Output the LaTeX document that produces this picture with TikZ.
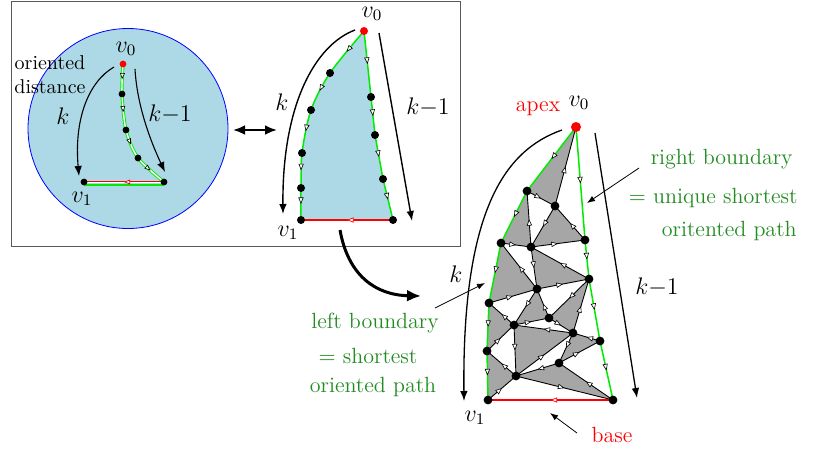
\documentclass[tikz,border=0pt]{standalone}
\usetikzlibrary{arrows.meta,decorations.markings}
\definecolor{lblue}{RGB}{173,216,230}
\definecolor{bgreen}{RGB}{0,235,0}
\definecolor{tgreen}{RGB}{34,139,34}
\definecolor{fgrey}{RGB}{166,166,166}
\definecolor{boxgrey}{RGB}{90,90,90}
\tikzset{
 dot/.style={circle, fill=black, inner sep=0pt, minimum size=4pt},
 reddot/.style={circle, fill=red, inner sep=0pt, minimum size=4pt},
 edgeln/.style={draw=black, line width=0.45pt},
 bnd/.style={draw=bgreen, line width=0.75pt},
 baseln/.style={draw=red, line width=0.75pt},
 midarr/.style={postaction={decorate, decoration={markings, mark=at position 0.5 with {\arrow{Triangle[length=3.3pt,width=2.6pt,fill=white,color=black,line width=0.3pt]}}}}},
 midarrred/.style={postaction={decorate, decoration={markings, mark=at position 0.5 with {\arrow{Triangle[length=3.3pt,width=2.6pt,fill=white,color=red,line width=0.35pt]}}}}},
 longarr/.style={-{Latex[length=5pt,width=3.8pt]}, line width=0.55pt},
 ptrarr/.style={-{Latex[length=4pt,width=3pt]}, line width=0.4pt},
 lab/.style={inner sep=0pt, font=\large},
 gtxt/.style={inner sep=0pt, text=tgreen, font=\fontsize{11}{13}\selectfont},
 rtxt/.style={inner sep=0pt, text=red, font=\fontsize{11}{13}\selectfont},
}
\begin{document}
\begin{tikzpicture}[x=0.5pt,y=-0.5pt]
\useasboundingbox (0,0) rectangle (818,457);
% ---------- frame ----------
\draw[boxgrey, line width=0.5pt] (11,1.5) rectangle (460,246.5);
% ---------- circle panel ----------
\coordinate (cc) at (128,128.5);
\draw[blue, fill=lblue, line width=0.4pt] (cc) circle[radius=50pt];
\coordinate (cv0) at (123,64);
\coordinate (c1) at (122,94);
\coordinate (c2) at (126,130);
\coordinate (c3) at (138,158);
\coordinate (c4) at (164,182);
\coordinate (cv1) at (84,182);
\coordinate (c4g) at (164,185);
\coordinate (cv1g) at (84,185);
\draw[bgreen, line width=0.6pt] (c4g) -- (cv1g);
\draw[draw=red, double=white, line width=0.4pt, double distance=0.5pt,
  postaction={decorate, decoration={markings, mark=at position 0.5 with {\arrow{Triangle[length=3pt,width=2.4pt,fill=white,color=red,line width=0.35pt]}}}}] (c4) -- (cv1);
\draw[draw=bgreen, double=white, line width=0.45pt, double distance=0.7pt,
  postaction={decorate, decoration={markings,
   mark=at position 0.114 with {\arrow{Triangle[length=3pt,width=2.4pt,fill=white,color=black,line width=0.3pt]}},
   mark=at position 0.364 with {\arrow{Triangle[length=3pt,width=2.4pt,fill=white,color=black,line width=0.3pt]}},
   mark=at position 0.617 with {\arrow{Triangle[length=3pt,width=2.4pt,fill=white,color=black,line width=0.3pt]}},
   mark=at position 0.866 with {\arrow{Triangle[length=3pt,width=2.4pt,fill=white,color=black,line width=0.3pt]}}}}]
  plot[smooth] coordinates {(cv0) (c1) (c2) (c3) (c4)};
\node[reddot, minimum size=3.4pt] (dcv0) at (cv0) {};
\foreach \n in {c1,c2,c3,c4,cv1} \node[dot, minimum size=3.4pt] (d\n) at (\n) {};
\node[lab] (lcv0) at (126,49) {$v_0$};
\node[lab] (lcv1) at (82,199) {$v_1$};
\node[inner sep=0pt, align=center, font=\fontsize{10}{12}\selectfont] (lorient) at (50,75) {oriented\\distance};
\node[lab] (lck) at (63,116) {$k$};
\node[lab] (lckm) at (170,114) {$k{-}1$};
\coordinate (cks) at (114,67);
\coordinate (cke) at (79,176);
\draw[longarr] (cks) .. controls (88,82) and (74,120) .. (cke);
\coordinate (cms) at (135,69);
\coordinate (cme) at (165,172);
\draw[longarr] (cms) .. controls (137,105) and (150,140) .. (cme);
% double arrow
\coordinate (da1) at (233,130);
\coordinate (da2) at (277,130);
\draw[{Latex[length=6pt,width=5pt]}-{Latex[length=6pt,width=5pt]}, line width=1.4pt] (da1) -- (da2);
% ---------- middle panel ----------
\coordinate (mv0) at (364,31);
\coordinate (m1) at (330,73);
\coordinate (m2) at (311,110);
\coordinate (m3) at (302,153);
\coordinate (m4) at (301,188);
\coordinate (mv1) at (301,220);
\coordinate (r1) at (371,97);
\coordinate (r2) at (375,135);
\coordinate (r3) at (383,179);
\coordinate (mR) at (393,220);
\fill[lblue] plot[smooth] coordinates {(mv0) (m1) (m2) (m3) (m4) (mv1)} -- (mR) -- (r3) -- (r2) -- (r1) -- cycle;
\draw[bnd, postaction={decorate, decoration={markings,
   mark=at position 0.131 with {\arrow{Triangle[length=3.3pt,width=2.6pt,fill=white,color=black,line width=0.3pt]}},
   mark=at position 0.362 with {\arrow{Triangle[length=3.3pt,width=2.6pt,fill=white,color=black,line width=0.3pt]}},
   mark=at position 0.569 with {\arrow{Triangle[length=3.3pt,width=2.6pt,fill=white,color=black,line width=0.3pt]}},
   mark=at position 0.760 with {\arrow{Triangle[length=3.3pt,width=2.6pt,fill=white,color=black,line width=0.3pt]}},
   mark=at position 0.923 with {\arrow{Triangle[length=3.3pt,width=2.6pt,fill=white,color=black,line width=0.3pt]}}}}]
  plot[smooth] coordinates {(mv0) (m1) (m2) (m3) (m4) (mv1)};
\foreach \a/\b in {mv0/r1, r1/r2, r2/r3, r3/mR} \draw[bnd, midarr] (\a) -- (\b);
\draw[baseln, midarrred] (mR) -- (mv1);
\node[reddot] (dmv0) at (mv0) {};
\foreach \n in {m1,m2,m3,m4,mv1,r1,r2,r3,mR} \node[dot] (d\n) at (\n) {};
\node[lab] (lmv0) at (372,14) {$v_0$};
\node[lab] (lmv1) at (288,233) {$v_1$};
\node[lab] (lmk) at (282,102) {$k$};
\node[lab] (lmkm) at (428,107) {$k{-}1$};
\coordinate (mks) at (355,30);
\coordinate (mke) at (283,214);
\draw[longarr, line width=0.7pt] (mks) .. controls (315,45) and (282,105) .. (mke);
\coordinate (mms) at (379,33);
\coordinate (mme) at (412,221);
\draw[longarr, line width=0.7pt] (mms) -- (mme);
% big curved arrow
\coordinate (ba1) at (340,230);
\coordinate (ba2) at (421,296);
\draw[-{Latex[length=7pt,width=6pt]}, line width=1.5pt] (ba1) .. controls (348,275) and (375,295) .. (ba2);
% ---------- right panel ----------
\coordinate (tv0) at (576,127);
\coordinate (tA) at (527,191);
\coordinate (tB) at (555,206);
\coordinate (tC) at (501,243);
\coordinate (tD) at (531,247);
\coordinate (tE) at (585,240);
\coordinate (tG) at (589,279);
\coordinate (tH) at (537,289);
\coordinate (tI) at (489,303);
\coordinate (tJ) at (549,318);
\coordinate (tK) at (514,325);
\coordinate (tL) at (573,333);
\coordinate (tM) at (600,341);
\coordinate (tN) at (487,351);
\coordinate (tO) at (559,363);
\coordinate (tP) at (516,376);
\coordinate (tv1) at (488,400);
\coordinate (tR) at (613,400);
\foreach \a/\b/\c in {tv0/tA/tB, tA/tC/tD, tB/tD/tE, tD/tH/tG, tC/tI/tH, tH/tK/tJ,
  tJ/tL/tG, tI/tN/tK, tK/tP/tL, tL/tO/tM, tP/tR/tO, tN/tv1/tP}
  \fill[fgrey] (\a) -- (\b) -- (\c) -- cycle;
\foreach \a/\b in {tA/tB, tB/tv0, tD/tA, tC/tD, tB/tD, tD/tE, tE/tB, tD/tH, tH/tG, tG/tD,
  tI/tH, tH/tC, tH/tK, tK/tJ, tJ/tH, tJ/tL, tL/tG, tG/tJ, tN/tK, tK/tI, tK/tP, tP/tL,
  tL/tK, tL/tO, tO/tM, tM/tL, tP/tR, tR/tO, tO/tP, tv1/tP, tP/tN}
  \draw[edgeln, midarr] (\a) -- (\b);
\foreach \a/\b in {tv0/tA, tA/tC, tC/tI, tI/tN, tN/tv1, tv0/tE, tE/tG, tG/tM, tM/tR}
  \draw[bnd, midarr] (\a) -- (\b);
\draw[baseln, midarrred] (tR) -- (tv1);
\foreach \n in {tA,tB,tC,tD,tE,tG,tH,tI,tJ,tK,tL,tM,tN,tO,tP,tv1,tR}
  \node[dot, minimum size=4.4pt] (d\n) at (\n) {};
\node[reddot, minimum size=5pt] (dtv0) at (tv0) {};
\node[lab] (ltv0) at (579,103) {$v_0$};
\node[rtxt, anchor=base] (lapex) at (538,111) {apex};
\node[lab] (ltv1) at (475,418) {$v_1$};
\node[rtxt, anchor=base] (lbase) at (612,442) {base};
\node[lab] (ltk) at (456,274) {$k$};
\node[lab] (ltkm) at (657,287) {$k{-}1$};
\coordinate (tks) at (562,130);
\coordinate (tke) at (464,401);
\draw[longarr, line width=0.65pt] (tks) .. controls (505,150) and (462,210) .. (tke);
\coordinate (tms) at (595,133);
\coordinate (tme) at (637,398);
\draw[longarr, line width=0.65pt] (tms) -- (tme);
% right boundary text
\node[gtxt, anchor=base east] (rb1) at (793,164) {right boundary};
\node[gtxt, anchor=base east] (rb2) at (798,203) {$=$ unique shortest};
\node[gtxt, anchor=base east] (rb3) at (797,236) {oritented path};
\coordinate (rbs) at (639,168);
\coordinate (rbe) at (587,203);
\draw[ptrarr] (rbs) -- (rbe);
% left boundary text
\node[gtxt, anchor=base] (lb1) at (375,328) {left boundary};
\node[gtxt, anchor=base] (lb2) at (368,363) {$=$ shortest};
\node[gtxt, anchor=base] (lb3) at (373,392) {oriented path};
\coordinate (lbs) at (435,308);
\coordinate (lbe) at (485,283);
\draw[ptrarr] (lbs) -- (lbe);
% base pointer
\coordinate (bps) at (577,433);
\coordinate (bpe) at (550,413);
\draw[ptrarr] (bps) -- (bpe);
\end{tikzpicture}
\end{document}
